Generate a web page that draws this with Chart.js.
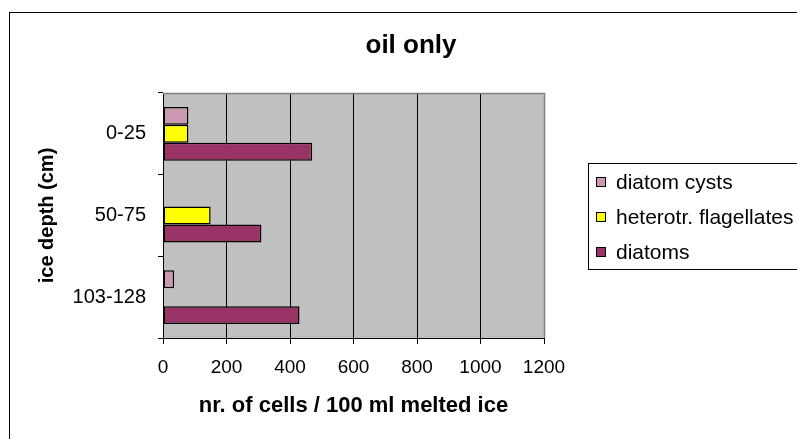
<!DOCTYPE html>
<html>
<head>
<meta charset="utf-8">
<script src="https://cdn.jsdelivr.net/npm/chart.js@4.4.1/dist/chart.umd.min.js"></script>
<style>
    html, body { margin: 0; padding: 0; background: #fff; }
    canvas { display: block; }
</style>
</head>
<body>
<canvas id="myChart" width="797" height="439"></canvas>
<script>
// data
const depths = ['0-25', '50-75', '103-128'];
const diatomCysts = [80, 0, 35];
const flagellates = [80, 150, 0];
const diatoms = [470, 310, 430];
const xTicks = [0, 200, 400, 600, 800, 1000, 1200];
const chartTitle = 'oil only';

const fontFamily = "'Liberation Sans', Arial, sans-serif";
Chart.defaults.font.family = fontFamily;
Chart.defaults.color = '#000';

// white page, outer frame, grey plot background, title
const framePlugin = {
    id: 'frame',
    beforeDraw(chart) {
        const ctx = chart.ctx;
        const a = chart.chartArea;
        ctx.save();
        ctx.fillStyle = '#fff';
        ctx.fillRect(0, 0, chart.width, chart.height);
        ctx.strokeStyle = '#000';
        ctx.lineWidth = 1;
        ctx.strokeRect(9.5, 12.5, 900, 500);
        ctx.fillStyle = '#C0C0C0';
        ctx.fillRect(a.left, a.top, a.right - a.left, a.bottom - a.top);
        // title is centred on the whole (cropped) chart frame
        ctx.fillStyle = '#000';
        ctx.font = 'bold 26px ' + fontFamily;
        ctx.textAlign = 'center';
        ctx.textBaseline = 'middle';
        ctx.fillText(chartTitle, 411, 46);
        ctx.restore();
    },
    beforeDatasetsDraw(chart) {
        // grey border on top and right of the plot
        const ctx = chart.ctx;
        const a = chart.chartArea;
        ctx.save();
        ctx.strokeStyle = '#808080';
        ctx.lineWidth = 1.5;
        ctx.beginPath();
        ctx.moveTo(a.left, a.top + 0.5);
        ctx.lineTo(a.right + 0.5, a.top + 0.5);
        ctx.lineTo(a.right + 0.5, a.bottom);
        ctx.stroke();
        ctx.restore();
    }
};

// legend box on the right, cut off by the picture edge like the original
const legendPlugin = {
    id: 'boxLegend',
    afterDraw(chart) {
        const ctx = chart.ctx;
        ctx.save();
        ctx.strokeStyle = '#000';
        ctx.lineWidth = 1;
        ctx.strokeRect(588.5, 163.5, 300, 106);
        ctx.font = '21px ' + fontFamily;
        ctx.textBaseline = 'middle';
        ctx.textAlign = 'left';
        chart.data.datasets.forEach((ds, i) => {
            const cy = 182 + i * 35;
            ctx.fillStyle = ds.backgroundColor;
            ctx.fillRect(596, cy - 5, 10, 10);
            ctx.strokeRect(596.5, cy - 4.5, 9, 9);
            ctx.fillStyle = '#000';
            ctx.fillText(ds.label, 616, cy + 1);
        });
        ctx.restore();
    }
};

const chartContext = document.getElementById('myChart').getContext('2d');

const chart = new Chart(chartContext, {
    type: 'bar',
    data: {
        labels: depths,
        datasets: [{
            label: 'diatom cysts',
            data: diatomCysts,
            backgroundColor: '#CC99B4',
            borderColor: '#000',
            borderWidth: 1.5,
            borderSkipped: false
        }, {
            label: 'heterotr. flagellates',
            data: flagellates,
            backgroundColor: '#FFFF00',
            borderColor: '#000',
            borderWidth: 1.5,
            borderSkipped: false
        }, {
            label: 'diatoms',
            data: diatoms,
            backgroundColor: '#993366',
            borderColor: '#000',
            borderWidth: 1.5,
            borderSkipped: false
        }]
    },
    options: {
        indexAxis: 'y',
        responsive: false,
        animation: false,
        devicePixelRatio: 1,
        categoryPercentage: 0.66,
        barPercentage: 1.0,
        layout: {
            padding: { left: 25, right: 253, top: 93, bottom: 0 }
        },
        plugins: {
            legend: { display: false },
            tooltip: { enabled: false },
            title: { display: false }
        },
        scales: {
            x: {
                type: 'linear',
                position: 'bottom',
                min: 0,
                max: 1200,
                afterBuildTicks: (scale) => {
                    scale.ticks = xTicks.map(v => ({ value: v }));
                },
                afterFit: (scale) => {
                    scale.height = 101;
                },
                grid: { color: '#000', lineWidth: 1, tickLength: 6 },
                border: { color: '#000', width: 1 },
                ticks: {
                    font: { size: 19 },
                    color: '#000',
                    padding: 12,
                    maxRotation: 0,
                    autoSkip: false,
                    callback: (value) => String(value)
                },
                title: {
                    display: true,
                    text: 'nr. of cells / 100 ml melted ice',
                    color: '#000',
                    font: { size: 22, weight: 'bold' },
                    padding: { top: 0, bottom: 20 }
                }
            },
            y: {
                afterFit: (scale) => {
                    scale.width = 138;
                },
                grid: { drawOnChartArea: false, color: '#000', tickLength: 5 },
                border: { color: '#000', width: 1 },
                ticks: {
                    font: { size: 20 },
                    color: '#000',
                    padding: 12
                },
                title: {
                    display: true,
                    text: 'ice depth (cm)',
                    color: '#000',
                    font: { size: 20, weight: 'bold' },
                    padding: { top: 10, bottom: 0 }
                }
            }
        }
    },
    plugins: [framePlugin, legendPlugin]
});
</script>
</body>
</html>
